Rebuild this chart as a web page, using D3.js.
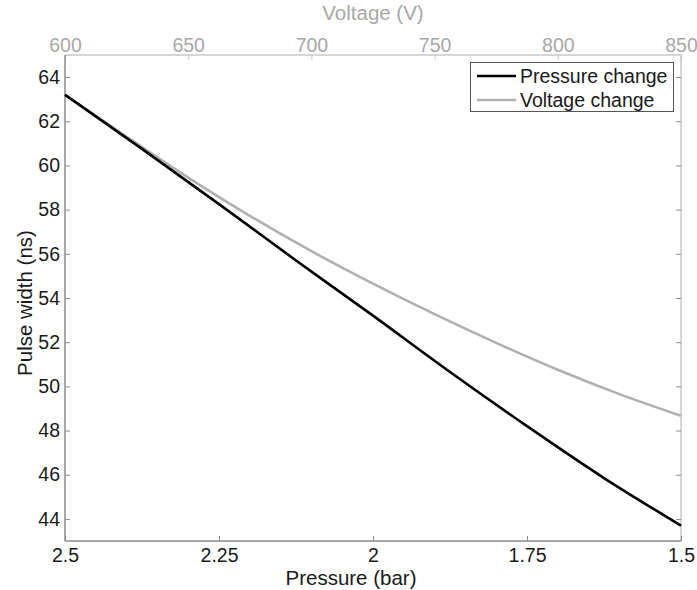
<!DOCTYPE html>
<html>
<head>
<meta charset="utf-8">
<script src="https://cdn.jsdelivr.net/npm/d3@7"></script>
<style>
  html, body { margin: 0; padding: 0; background: #fff; }
  svg { display: block; font-family: "Liberation Sans", Arial, sans-serif; }
</style>
</head>
<body>
<svg id="chart" width="697" height="590"></svg>
<script>
// pressure sweep (bottom axis, bar) -> pulse width (ns)
var pressure = [2.5, 2.375, 2.25, 2.125, 2.0, 1.875, 1.75, 1.625, 1.5];
var pressureWidth = [63.2, 60.75, 58.25, 55.7, 53.2, 50.65, 48.2, 45.85, 43.7];
// voltage sweep (top axis, V) -> pulse width (ns)
var voltage = [600, 625, 650, 675, 700, 725, 750, 775, 800, 825, 850];
var voltageWidth = [63.2, 61.3, 59.45, 57.72, 56.12, 54.65, 53.27, 51.97, 50.75, 49.65, 48.67];

var pTicks = [2.5, 2.25, 2, 1.75, 1.5];
var vTicks = [600, 650, 700, 750, 800, 850];
var yTicks = [44, 46, 48, 50, 52, 54, 56, 58, 60, 62, 64];
var seriesNames = ["Pressure change", "Voltage change"];

(function () {
  "use strict";
  var svg = d3.select("#chart");
  var M = { l: 65, r: 681, t: 55, b: 541 };
  var FS = "19.5px", LFS = "20.5px";
  var FF = "Liberation Sans, Arial, sans-serif";
  var INK = "#1a1a1a", AX = "#8c8c8c", AXL = "#c8c8c8", GREYTXT = "#a8a8a8";
  var BLACK = "#000", GREY = "#b0b0b0";

  var x = d3.scaleLinear().domain([2.5, 1.5]).range([M.l, M.r]);
  var xv = d3.scaleLinear().domain([600, 850]).range([M.l, M.r]);
  var y = d3.scaleLinear().domain([43, 65]).range([M.b, M.t]);

  // top + right frame (secondary axes, lighter)
  svg.append("line").attr("x1", M.l).attr("x2", M.r).attr("y1", M.t).attr("y2", M.t)
    .attr("stroke", AXL).attr("stroke-width", 1.5);
  svg.append("line").attr("x1", M.r).attr("x2", M.r).attr("y1", M.t).attr("y2", M.b)
    .attr("stroke", AXL).attr("stroke-width", 1.5);

  // top axis (voltage)
  var axTop = d3.axisTop(xv).tickValues(vTicks).tickSize(-5).tickPadding(3)
    .tickFormat(d3.format("d"));
  var gTop = svg.append("g").attr("transform", "translate(0," + M.t + ")").call(axTop);
  gTop.select(".domain").remove();
  gTop.selectAll(".tick line").attr("stroke", AXL);
  gTop.selectAll("text").attr("fill", GREYTXT).style("font-size", FS).style("font-family", FF);
  svg.append("text").attr("x", (M.l + M.r) / 2).attr("y", 20).attr("text-anchor", "middle")
    .attr("fill", GREYTXT).style("font-size", LFS).text("Voltage (V)");

  // bottom axis (pressure)
  var axBot = d3.axisBottom(x).tickValues(pTicks).tickSize(-5).tickPadding(7)
    .tickFormat(function (d) { return String(d); });
  var gBot = svg.append("g").attr("transform", "translate(0," + M.b + ")").call(axBot);
  gBot.select(".domain").remove();
  gBot.selectAll(".tick line").attr("stroke", AX);
  gBot.selectAll("text").attr("fill", INK).style("font-size", FS).style("font-family", FF);
  svg.append("text").attr("x", 351).attr("y", 585).attr("text-anchor", "middle")
    .attr("fill", INK).style("font-size", LFS).text("Pressure (bar)");

  // left axis
  var axL = d3.axisLeft(y).tickValues(yTicks).tickSize(-5).tickPadding(5)
    .tickFormat(d3.format("d"));
  var gL = svg.append("g").attr("transform", "translate(" + M.l + ",0)").call(axL);
  gL.select(".domain").remove();
  gL.selectAll(".tick line").attr("stroke", AX);
  gL.selectAll("text").attr("fill", INK).style("font-size", FS).style("font-family", FF);
  // mirrored ticks on the right
  var gR = svg.append("g").attr("transform", "translate(" + M.r + ",0)")
    .call(d3.axisRight(y).tickValues(yTicks).tickSize(-5).tickFormat(""));
  gR.select(".domain").remove();
  gR.selectAll(".tick line").attr("stroke", AX);
  svg.append("text").attr("transform", "translate(32,303) rotate(-90)")
    .attr("text-anchor", "middle").attr("fill", INK).style("font-size", LFS)
    .text("Pulse width (ns)");

  // bottom + left frame
  svg.append("line").attr("x1", M.l).attr("x2", M.r).attr("y1", M.b).attr("y2", M.b)
    .attr("stroke", AX).attr("stroke-width", 1.5);
  svg.append("line").attr("x1", M.l).attr("x2", M.l).attr("y1", M.t).attr("y2", M.b)
    .attr("stroke", AX).attr("stroke-width", 1.5);

  // curves
  var lineP = d3.line().x(function (d, i) { return x(pressure[i]); })
    .y(function (d) { return y(d); }).curve(d3.curveMonotoneX);
  var lineV = d3.line().x(function (d, i) { return xv(voltage[i]); })
    .y(function (d) { return y(d); }).curve(d3.curveMonotoneX);
  svg.append("path").attr("d", lineV(voltageWidth)).attr("fill", "none")
    .attr("stroke", GREY).attr("stroke-width", 2.6);
  svg.append("path").attr("d", lineP(pressureWidth)).attr("fill", "none")
    .attr("stroke", BLACK).attr("stroke-width", 2.6);

  // legend
  var lg = svg.append("g");
  lg.append("rect").attr("x", 470.5).attr("y", 62.5).attr("width", 203).attr("height", 49)
    .attr("fill", "#fff").attr("stroke", "#555").attr("stroke-width", 1);
  [BLACK, GREY].forEach(function (c, i) {
    var yy = 76 + i * 24;
    lg.append("line").attr("x1", 477).attr("x2", 516).attr("y1", yy).attr("y2", yy)
      .attr("stroke", c).attr("stroke-width", 2.6);
    lg.append("text").attr("x", 520).attr("y", yy + 7).attr("fill", INK)
      .style("font-size", FS).text(seriesNames[i]);
  });
})();
</script>
</body>
</html>
